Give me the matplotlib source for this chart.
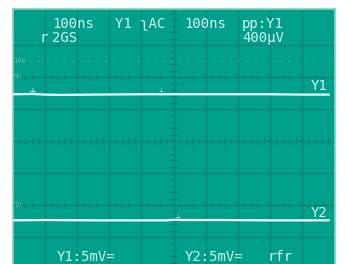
import matplotlib
matplotlib.use("Agg")
import matplotlib.pyplot as plt

# colori schermo
BG = "#00a08c"
GRID = "#0a7f6f"
FG = "#d8f2ea"
TRACE = "#f4fbf8"

# dati (divisioni)
t1 = [0.0, 0.6, 1.0, 1.5, 2.5, 4.0, 5.0, 6.5, 8.0, 9.0, 9.85]
y1 = [5.46, 5.47, 5.45, 5.44, 5.45, 5.46, 5.46, 5.46, 5.46, 5.45, 5.45]
t2 = [0.0, 1.0, 2.5, 4.0, 4.8, 5.0, 5.3, 6.5, 8.0, 9.0, 9.85]
y2 = [1.52, 1.53, 1.52, 1.52, 1.52, 1.54, 1.53, 1.53, 1.52, 1.52, 1.52]

top_row = [(1.23, "100ns"), (3.18, "Y1 ʅAC"), (5.33, "100ns"), (7.13, "pp:Y1")]
second_row = [(0.85, "r"), (1.23, "2GS"), (7.13, "400µV")]
bottom_row = [(1.38, "Y1:5mV="), (5.36, "Y2:5mV="), (7.93, "rfr")]
levels = [(6.5, "100"), (6.0, "90"), (2.0, "10")]

fig = plt.figure(figsize=(3.45, 2.64), dpi=100)
fig.patch.set_facecolor("white")
ax = fig.add_axes([12.5 / 345, 0, 322 / 345, 255 / 264])
ax.set_xlim(0, 10)
ax.set_ylim(0.156, 8.125)
ax.set_facecolor(BG)
for s in ax.spines.values():
    s.set_color("#7fd3c2")
    s.set_linewidth(1.2)
ax.spines["bottom"].set_visible(False)
ax.set_xticks([])
ax.set_yticks([])

# griglia
for x in range(1, 10):
    ax.axvline(x, color=GRID, lw=0.8, zorder=1)
for y in range(1, 8):
    ax.axhline(y, color=GRID, lw=0.8, zorder=1)

# tacche sugli assi centrali
for k in range(41):
    yy = k * 0.2
    ax.plot([4.88, 5.12], [yy, yy], color=GRID, lw=0.8, zorder=1)
for k in range(51):
    xx = k * 0.2
    ax.plot([xx, xx], [3.9, 4.1], color=GRID, lw=0.8, zorder=1)

# livelli 10/90/100
for lv, lab in levels:
    if lab == "100":
        ax.axhline(lv, color="#3aaa96", lw=1.0, ls=(0, (1, 5)), zorder=2)
    else:
        ax.axhline(lv, color=GRID, lw=0.9, zorder=2)
        for k in range(51):
            xx = k * 0.2
            if k % 5 == 4:
                continue
            ax.plot([xx, xx], [lv - 0.07, lv + 0.07], color=GRID, lw=0.8, zorder=2)
    ax.text(0.02, lv, lab, color="#55bca8", fontsize=5, va="center", ha="left",
            family="DejaVu Sans Mono", zorder=3)

# tracce
ax.plot(t1, y1, color=TRACE, lw=1.6, zorder=4, solid_capstyle="butt")
ax.plot(t2, y2, color=TRACE, lw=1.6, zorder=4, solid_capstyle="butt")
ax.text(0.6, 5.52, "+", color=FG, fontsize=7, ha="center", va="center", zorder=5)
ax.text(4.6, 5.58, "⊥", color=FG, fontsize=4, ha="center", va="center", zorder=5)
ax.text(5.15, 1.64, "⊥", color=FG, fontsize=4, ha="center", va="center", zorder=5)

# testi
font = dict(color=FG, fontsize=10, family=["DejaVu Sans Mono", "DejaVu Sans"], zorder=6)
for x, s in top_row:
    ax.text(x, 7.67, s, ha="left", va="center", **font)
for x, s in second_row:
    ax.text(x, 7.22, s, ha="left", va="center", **font)
for x, s in bottom_row:
    ax.text(x, 0.375, s, ha="left", va="center", **font)
ax.text(9.77, 5.72, "Y1", ha="right", va="center", **font)
ax.text(9.77, 1.75, "Y2", ha="right", va="center", **font)

fig.savefig("out.png", dpi=100, facecolor="white")
